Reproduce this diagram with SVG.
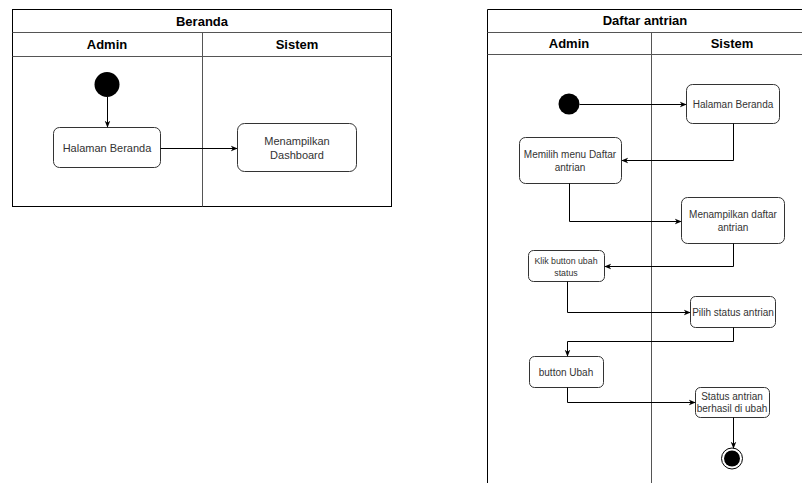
<svg xmlns="http://www.w3.org/2000/svg" width="802" height="483" viewBox="0 0 802 483">
<style>
.frame{fill:#fff;stroke:#000;stroke-width:1}
.lane{fill:none;stroke:#555;stroke-width:1}
.node{fill:#fff;stroke:#333;stroke-width:1}
.t{font-family:"Liberation Sans",Arial,sans-serif;fill:#333;text-anchor:middle}
.h{font-family:"Liberation Sans",Arial,sans-serif;font-weight:bold;font-size:13px;fill:#000;text-anchor:middle}
.c{fill:none;stroke:#000;stroke-width:1}
</style>
<defs>
<marker id="arr" viewBox="0 0 10 10" refX="9" refY="5" markerWidth="7" markerHeight="7" orient="auto" markerUnits="userSpaceOnUse">
<path d="M0,1 L10,5 L0,9 L3,5 Z" fill="#000"/>
</marker>
</defs>
<rect width="802" height="483" fill="#fff"/>
<g id="pool-beranda">
<rect class="frame" x="12.5" y="9.5" width="379" height="197"/>
<line class="lane" x1="12.5" y1="32.5" x2="391.5" y2="32.5"/>
<line class="lane" x1="12.5" y1="56.5" x2="391.5" y2="56.5"/>
<line class="lane" x1="202.5" y1="32.5" x2="202.5" y2="206.5"/>
<text class="h" x="202" y="26">Beranda</text>
<text class="h" x="107" y="49">Admin</text>
<text class="h" x="297" y="49">Sistem</text>
</g>
<g id="b-start"><circle cx="107" cy="84.5" r="12.5" fill="#000"/></g>
<g id="b-halaman">
<rect class="node" x="53.5" y="127.5" width="107" height="40" rx="6"/>
<text class="t" x="107" y="152" font-size="11">Halaman Beranda</text>
</g>
<g id="b-dashboard">
<rect class="node" x="237.5" y="123.5" width="119" height="48" rx="7"/>
<text class="t" x="297" y="145" font-size="11">Menampilkan</text>
<text class="t" x="297" y="159" font-size="11">Dashboard</text>
</g>
<g id="pool-daftar">
<path class="frame" d="M487.5,483 V9.5 H802" />
<line class="lane" x1="487.5" y1="32.5" x2="802" y2="32.5"/>
<line class="lane" x1="487.5" y1="54.5" x2="802" y2="54.5"/>
<line class="lane" x1="651.5" y1="32.5" x2="651.5" y2="483"/>
<text class="h" x="645" y="25">Daftar antrian</text>
<text class="h" x="569" y="48">Admin</text>
<text class="h" x="732" y="48">Sistem</text>
</g>
<g id="d-start"><circle cx="569" cy="104" r="10.5" fill="#000"/></g>
<g id="d-halaman">
<rect class="node" x="686.5" y="84.5" width="93" height="39" rx="6"/>
<text class="t" x="733" y="108" font-size="10">Halaman Beranda</text>
</g>
<g id="d-memilih">
<rect class="node" x="519.5" y="137.5" width="102" height="46" rx="6"/>
<text class="t" x="570" y="158" font-size="10">Memilih menu Daftar</text>
<text class="t" x="570" y="171" font-size="10">antrian</text>
</g>
<g id="d-menampilkan">
<rect class="node" x="681.5" y="197.5" width="103" height="46" rx="6"/>
<text class="t" x="733" y="218" font-size="10">Menampilkan daftar</text>
<text class="t" x="733" y="231" font-size="10">antrian</text>
</g>
<g id="d-klik">
<rect class="node" x="528.5" y="250.5" width="76" height="31" rx="5"/>
<text class="t" x="566" y="264" font-size="8.8">Klik button ubah</text>
<text class="t" x="566" y="275.5" font-size="8.8">status</text>
</g>
<g id="d-pilih">
<rect class="node" x="690.5" y="296.5" width="85" height="31" rx="5"/>
<text class="t" x="733" y="315.5" font-size="10">Pilih status antrian</text>
</g>
<g id="d-ubah">
<rect class="node" x="529.5" y="356.5" width="74" height="31" rx="5"/>
<text class="t" x="566" y="375.5" font-size="10">button Ubah</text>
</g>
<g id="d-status">
<rect class="node" x="695.5" y="387.5" width="74" height="30" rx="5"/>
<text class="t" x="732" y="399.5" font-size="10">Status antrian</text>
<text class="t" x="732" y="411.5" font-size="10">berhasil di ubah</text>
</g>
<g id="d-end">
<circle cx="732" cy="458.5" r="10.5" fill="#fff" stroke="#000" stroke-width="1"/>
<circle cx="732" cy="458.5" r="8" fill="#000"/>
</g>
<g id="connectors">
<path class="c" d="M107.5,97 V127" marker-end="url(#arr)"/>
<path class="c" d="M160.5,148.5 H237" marker-end="url(#arr)"/>
<path class="c" d="M579.5,104.5 H686" marker-end="url(#arr)"/>
<path class="c" d="M733.5,123.5 V160.5 H622" marker-end="url(#arr)"/>
<path class="c" d="M569.5,183.5 V221.5 H681" marker-end="url(#arr)"/>
<path class="c" d="M733.5,243.5 V266.5 H605" marker-end="url(#arr)"/>
<path class="c" d="M567.5,281.5 V312.5 H690" marker-end="url(#arr)"/>
<path class="c" d="M733.5,327.5 V341.5 H567.5 V356" marker-end="url(#arr)"/>
<path class="c" d="M567.5,387.5 V402.5 H695" marker-end="url(#arr)"/>
<path class="c" d="M733.5,417.5 V448" marker-end="url(#arr)"/>
</g>
</svg>
